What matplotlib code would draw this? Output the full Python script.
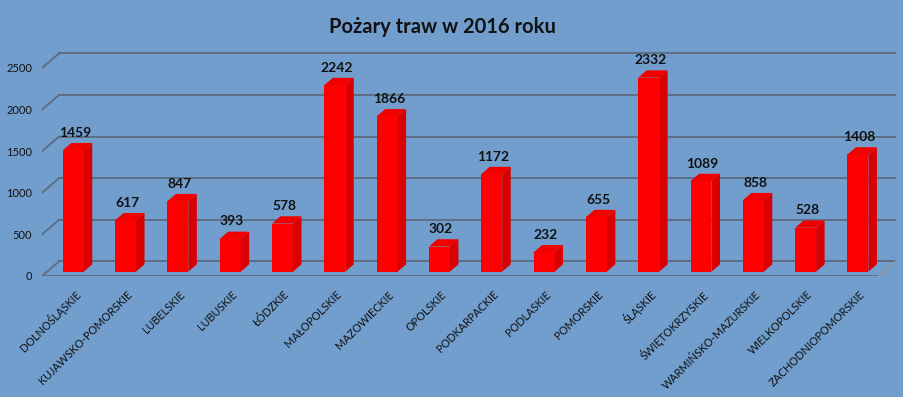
import matplotlib
matplotlib.use('Agg')
import matplotlib.pyplot as plt
from matplotlib.patches import Polygon

plt.rcParams['font.family'] = ['Lato', 'DejaVu Sans']

wojewodztwa = ['DOLNOŚLĄSKIE', 'KUJAWSKO-POMORSKIE', 'LUBELSKIE', 'LUBUSKIE', 'ŁÓDZKIE',
               'MAŁOPOLSKIE', 'MAZOWIECKIE', 'OPOLSKIE', 'PODKARPACKIE', 'PODLASKIE',
               'POMORSKIE', 'ŚLĄSKIE', 'ŚWIĘTOKRZYSKIE', 'WARMIŃSKO-MAZURSKIE',
               'WIELKOPOLSKIE', 'ZACHODNIOPOMORSKIE']
pozary = [1459, 617, 847, 393, 578, 2242, 1866, 302, 1172, 232, 655, 2332, 1089, 858, 528, 1408]
y_ticks = [0, 500, 1000, 1500, 2000, 2500]
tytul = 'Pożary traw w 2016 roku'

tlo = '#729ece'
siatka = '#5b6b80'

# efekt 3D: przesuniecie glebokosci w jednostkach osi
DX = 0.325
DY = 175
t0, t1 = 0.3, 0.8   # przod i tyl slupka (ulamek glebokosci)
szer = 0.40

n = len(pozary)
fig = plt.figure(figsize=(9.04, 3.97), dpi=100, facecolor=tlo)
ax = fig.add_axes([42/904, 121/397, 854/904, 236/397])
ax.set_facecolor(tlo)
ax.set_xlim(-0.5, n - 0.5 + DX)
ax.set_ylim(0, 236 / 208 * 2500)
for s in ax.spines.values():
    s.set_visible(False)

# sciany: tylna i lewa
for v in y_ticks:
    ax.plot([-0.5 + DX, n - 0.5 + DX], [v + DY, v + DY], color=siatka, lw=1.3, zorder=1)
    ax.plot([-0.5, -0.5 + DX], [v, v + DY], color=siatka, lw=1.3, zorder=1)
# podloga
ax.plot([-0.5, n - 0.5], [0, 0], color=siatka, lw=1.3, zorder=1)
ax.plot([n - 0.5, n - 0.5 + DX], [0, DY], color='#8e99a8', lw=1.3, zorder=1)

xs = [i + t0 * DX for i in range(n)]
ax.bar(xs, pozary, width=szer, bottom=t0 * DY, color='#ff0000', zorder=3)

d = t1 - t0
for x, v in zip(xs, pozary):
    x0 = x - szer / 2
    x1 = x + szer / 2
    y0 = t0 * DY
    bok = [(x1, y0), (x1 + d * DX, y0 + d * DY), (x1 + d * DX, y0 + v + d * DY), (x1, y0 + v)]
    gora = [(x0, y0 + v), (x1, y0 + v), (x1 + d * DX, y0 + v + d * DY), (x0 + d * DX, y0 + v + d * DY)]
    ax.add_patch(Polygon(bok, closed=True, facecolor='#d80000', edgecolor='none', zorder=3))
    ax.add_patch(Polygon(gora, closed=True, facecolor='#f20000', edgecolor='none', zorder=3))
    ax.annotate(str(v), (x + 0.1 * DX, v + t1 * DY), xytext=(0, 3), textcoords='offset points',
                ha='center', va='bottom', fontsize=10, fontweight='bold', color='#111111')

ax.set_yticks(y_ticks)
ax.tick_params(axis='y', length=0, pad=7, labelsize=8, labelcolor='#111111')
ax.set_xticks([x + 0.1 for x in xs], wojewodztwa, rotation=45, ha='right', va='center',
              rotation_mode='anchor')
ax.tick_params(axis='x', length=0, pad=12, labelsize=7.8, labelcolor='#111111')

fig.text(442/904, 1 - 27/397, tytul, ha='center', va='center', fontsize=14.5,
         fontweight='bold', color='#111111')

fig.savefig('out.png', dpi=100, facecolor=tlo)
